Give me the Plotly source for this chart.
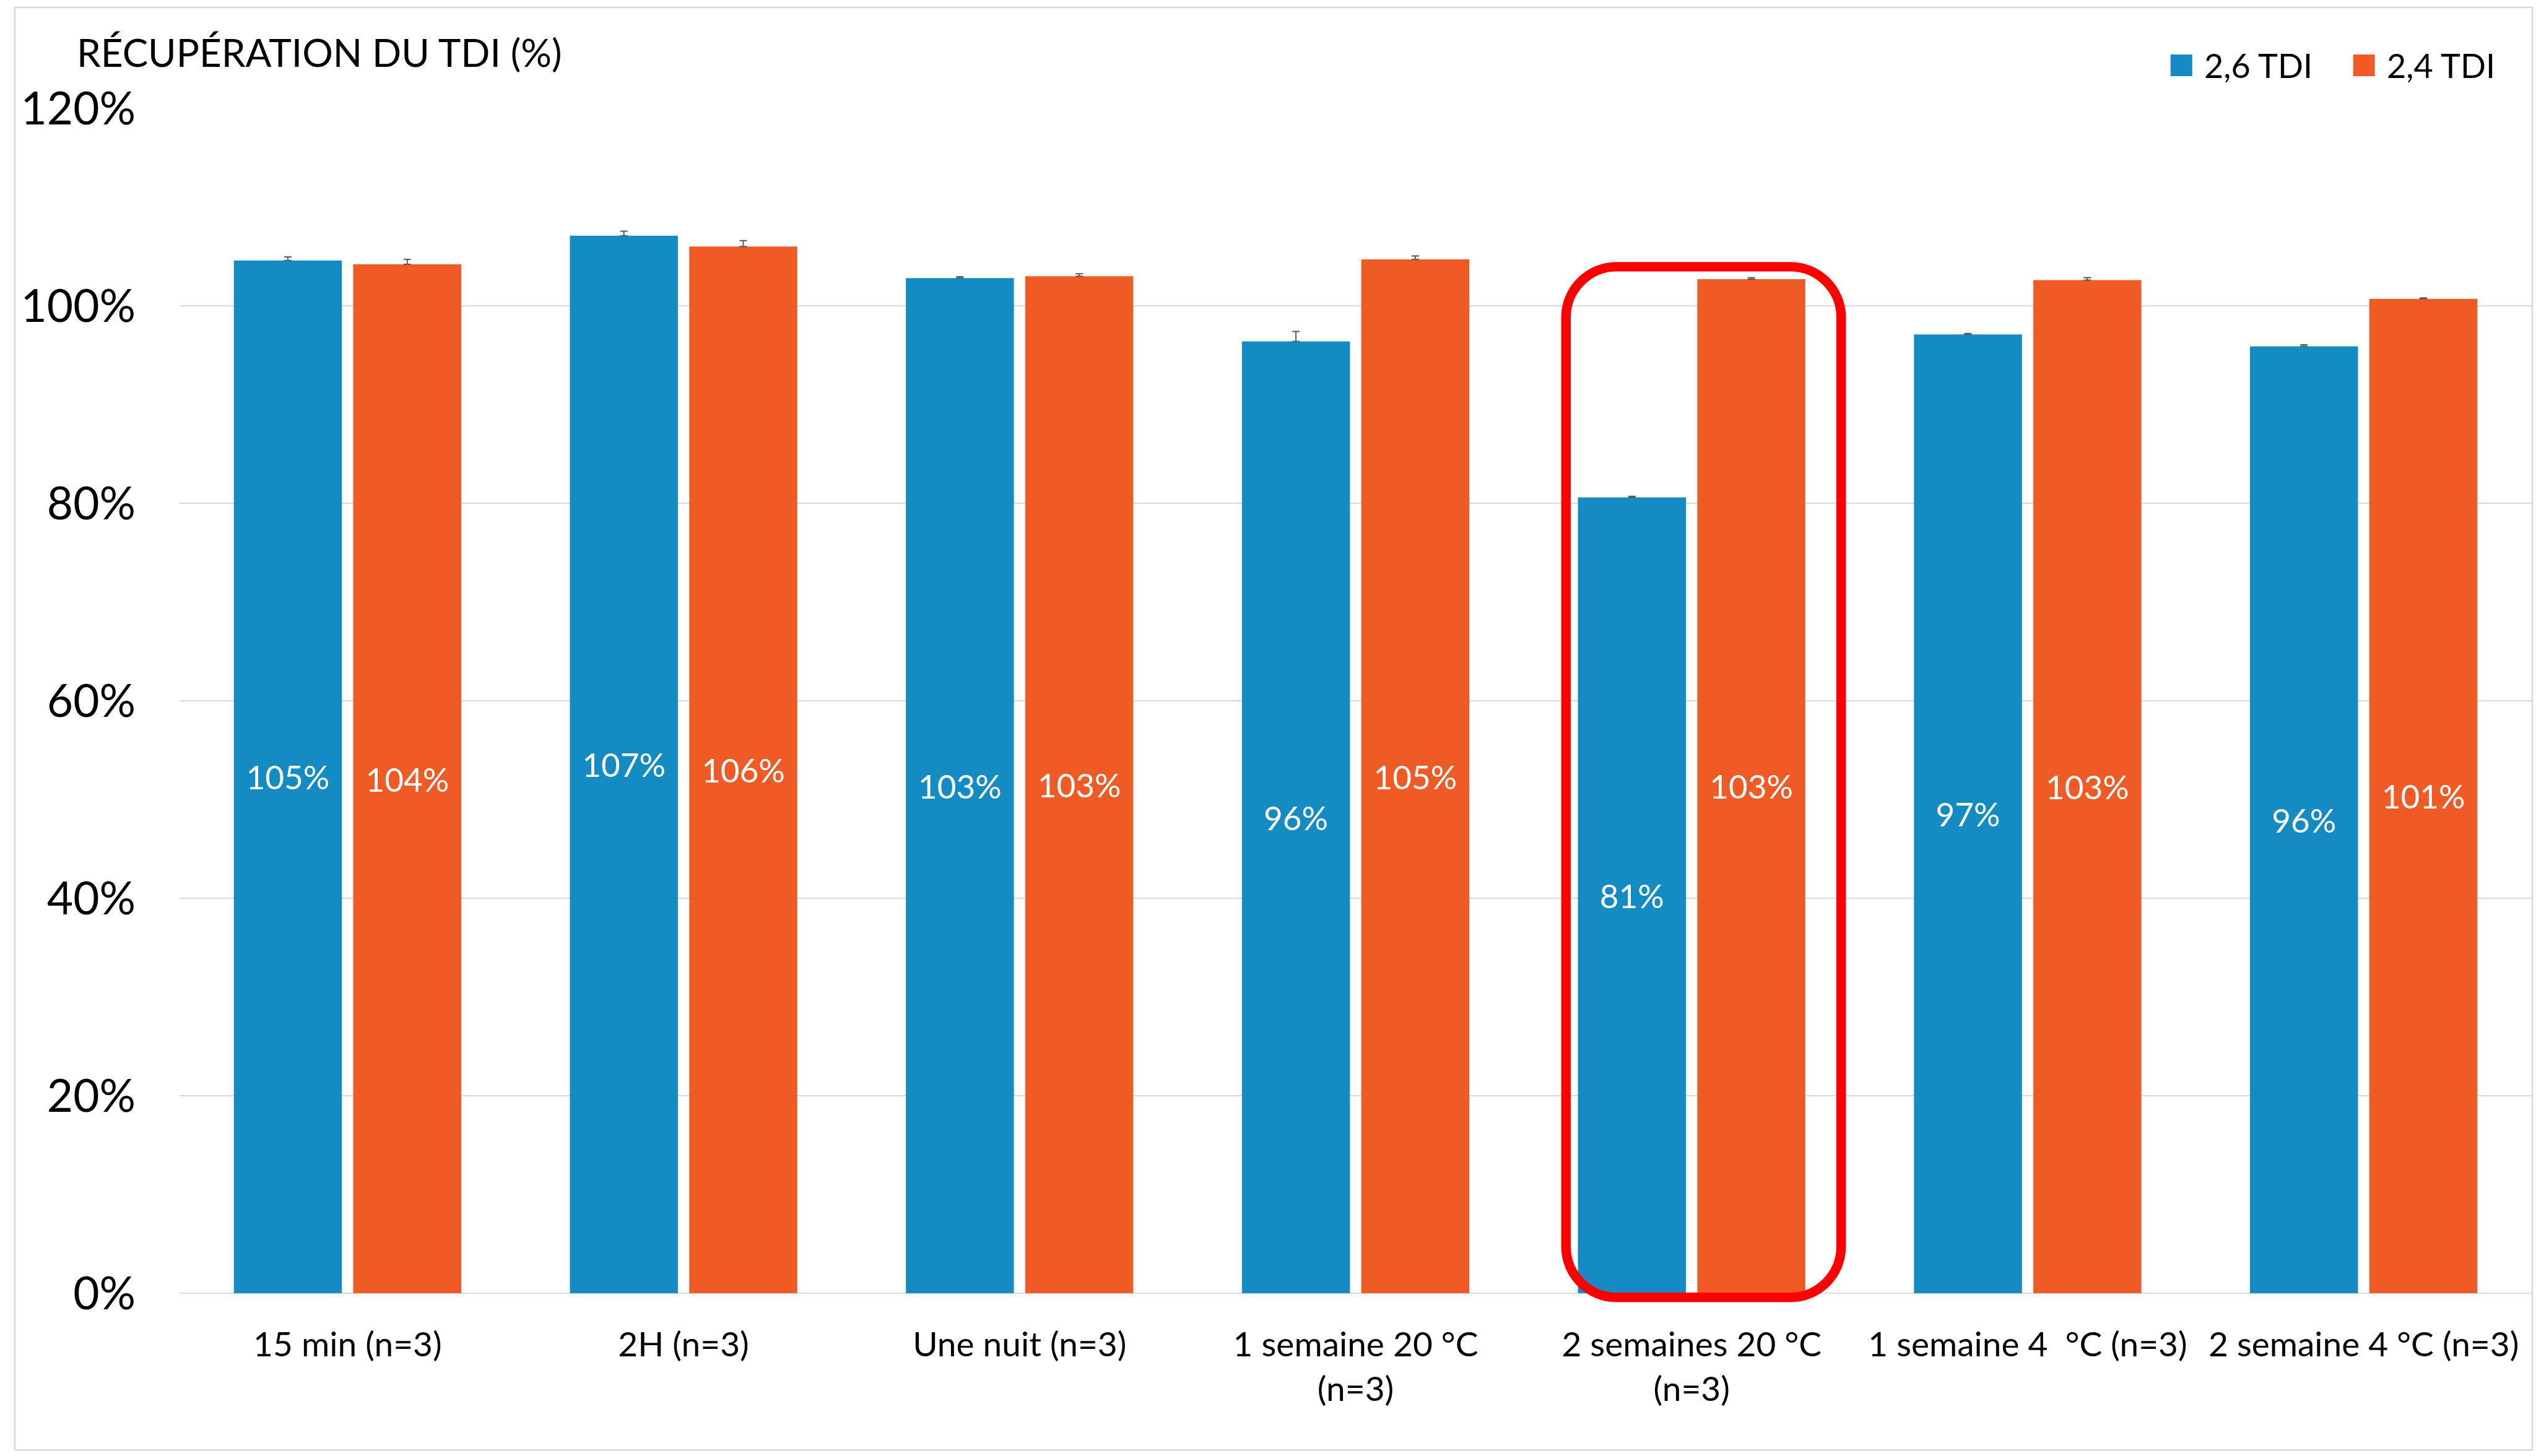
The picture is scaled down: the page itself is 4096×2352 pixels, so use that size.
import plotly.graph_objects as go

# ---- data -------------------------------------------------------------
categories = [
    "15 min (n=3)",
    "2H (n=3)",
    "Une nuit (n=3)",
    "1 semaine 20 °C<br>(n=3)",
    "2 semaines 20 °C<br>(n=3)",
    "1 semaine 4\u00a0 °C (n=3)",
    "2 semaine 4 °C (n=3)",
]
series_names = ["2,6 TDI", "2,4 TDI"]
tdi_26 = [104.6, 107.1, 102.8, 96.4, 80.6, 97.1, 95.9]
tdi_24 = [104.2, 106.0, 103.0, 104.7, 102.7, 102.6, 100.7]
tdi_26_err = [0.35, 0.45, 0.15, 1.0, 0.1, 0.1, 0.15]
tdi_24_err = [0.5, 0.6, 0.25, 0.35, 0.15, 0.25, 0.1]
y_ticks = [0, 20, 40, 60, 80, 100, 120]
y_title = "RÉCUPÉRATION DU TDI (%)"
highlight_index = 4  # "2 semaines 20 °C" group, circled in red

# ---- style ------------------------------------------------------------
BLUE = "#148BC3"
ORANGE = "#F05A24"
GRID = "#D9D9D9"
ERR = "#595959"
FONT = "Lato, 'Open Sans', sans-serif"

W_FIG, H_FIG = 4096, 2352
# plot area in pixels
PL, PR = 290.2, 4089.3
PT = 175.4          # y = 120 %
Y0 = 2089.0         # y = 0 %
Y_MIN = -1.0
per_pct = (Y0 - PT) / 120.0
PB = Y0 - Y_MIN * per_pct
PW, PH = PR - PL, PB - PT


def px_x(p):
    return (p - PL) / PW


def px_y(p):
    return (PB - p) / PH


x_idx = list(range(len(categories)))

fig = go.Figure()
for name, vals, errs, col in [
    (series_names[0], tdi_26, tdi_26_err, BLUE),
    (series_names[1], tdi_24, tdi_24_err, ORANGE),
]:
    fig.add_trace(go.Bar(
        x=x_idx, y=vals, name=name,
        marker=dict(color=col, line=dict(width=0)),
        text=[f"{v:.0f}%" for v in vals],
        textposition="inside", insidetextanchor="middle",
        constraintext="none",
        textfont=dict(family=FONT, size=53, color="white"),
        error_y=dict(type="data", symmetric=False, array=errs,
                     arrayminus=[0] * len(errs), color=ERR,
                     thickness=2, width=6),
        showlegend=False,
    ))

# rounded frame around the highlighted group
cx = highlight_index
x_left, x_right = cx - 0.374, cx + 0.445
y_top, y_bot = 103.96, -0.42
cat_px = PW / len(categories)
r_px = 82.0
rx, ry = r_px / cat_px, r_px / per_pct
k = 0.5523
path = (
    f"M {x_left + rx},{y_top} L {x_right - rx},{y_top} "
    f"C {x_right - rx + k * rx},{y_top} {x_right},{y_top - ry + k * ry} {x_right},{y_top - ry} "
    f"L {x_right},{y_bot + ry} "
    f"C {x_right},{y_bot + ry - k * ry} {x_right - rx + k * rx},{y_bot} {x_right - rx},{y_bot} "
    f"L {x_left + rx},{y_bot} "
    f"C {x_left + rx - k * rx},{y_bot} {x_left},{y_bot + ry - k * ry} {x_left},{y_bot + ry} "
    f"L {x_left},{y_top - ry} "
    f"C {x_left},{y_top - ry + k * ry} {x_left + rx - k * rx},{y_top} {x_left + rx},{y_top} Z"
)
shapes = [dict(type="path", path=path, xref="x", yref="y",
               line=dict(color="#FF0000", width=15.4), layer="above")]

# outer chart frame
shapes.append(dict(type="rect", xref="paper", yref="paper",
                   x0=px_x(24.1), x1=px_x(4090.3), y0=px_y(2342.5), y1=px_y(12.5),
                   line=dict(color=GRID, width=2.5), layer="below"))

# legend swatches + labels
annotations = []
for name, col, sq_left, txt_left in [
    (series_names[0], BLUE, 3506.0, 3558.0),
    (series_names[1], ORANGE, 3801.0, 3853.0),
]:
    shapes.append(dict(type="rect", xref="paper", yref="paper",
                       x0=px_x(sq_left), x1=px_x(sq_left + 35),
                       y0=px_y(123.4), y1=px_y(88.4),
                       fillcolor=col, line=dict(width=0)))
    annotations.append(dict(text=name, xref="paper", yref="paper",
                            x=px_x(txt_left), y=px_y(106), xanchor="left",
                            yanchor="middle", showarrow=False,
                            font=dict(family=FONT, size=54, color="black")))

annotations.append(dict(text=y_title, xref="paper", yref="paper",
                        x=px_x(122), y=px_y(84), xanchor="left", yanchor="middle",
                        showarrow=False,
                        font=dict(family=FONT, size=62, color="black")))

fig.update_layout(
    width=W_FIG, height=H_FIG,
    margin=dict(l=PL, r=W_FIG - PR, t=PT, b=H_FIG - PB, pad=0),
    paper_bgcolor="white", plot_bgcolor="white",
    barmode="group", bargap=0.2895, bargroupgap=0.095,
    shapes=shapes, annotations=annotations,
    font=dict(family=FONT, color="black"),
)
fig.update_xaxes(
    range=[-0.5, len(categories) - 0.5],
    tickmode="array", tickvals=x_idx, ticktext=categories,
    tickangle=0, ticks="", showgrid=False, zeroline=False, showline=False,
    tickfont=dict(family=FONT, size=55, color="black"),
    ticklabelstandoff=30,
)
fig.update_yaxes(
    range=[Y_MIN, 120],
    tickmode="array", tickvals=y_ticks, ticktext=[f"{v}%" for v in y_ticks],
    ticks="", showgrid=True, gridcolor=GRID, gridwidth=2.2,
    zeroline=True, zerolinecolor=GRID, zerolinewidth=2.2, showline=False,
    tickfont=dict(family=FONT, size=73, color="black"),
    ticklabelstandoff=70,
)

fig.write_html("out.html")
